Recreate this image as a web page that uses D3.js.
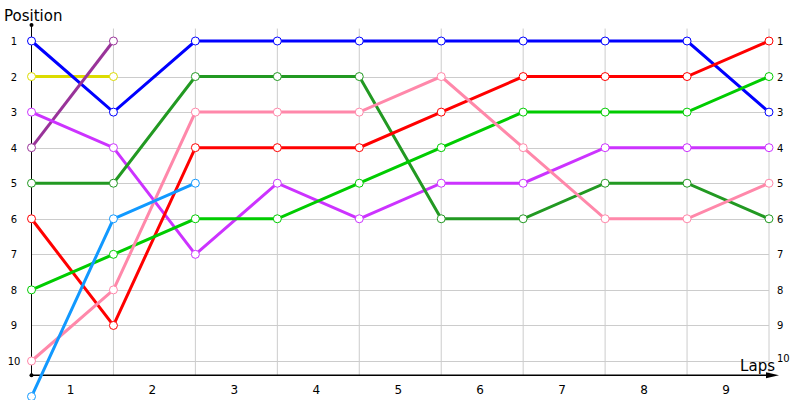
<!DOCTYPE html>
<html>
<head>
<meta charset="utf-8">
<script src="https://cdn.jsdelivr.net/npm/d3@7"></script>
<style>
  body { margin: 0; background: #fff; }
  svg { display: block; font-family: "DejaVu Sans", Verdana, sans-serif; }
</style>
</head>
<body>
<svg id="chart" width="800" height="400"></svg>
<script>
// ************************************
// Data
// ************************************

const laps = [1, 2, 3, 4, 5, 6, 7, 8, 9];
const positions = [1, 2, 3, 4, 5, 6, 7, 8, 9, 10];

// position of each driver at every lap boundary (index 0 = start)
const yellowPos = [2, 2];
const bluePos = [1, 3, 1, 1, 1, 1, 1, 1, 1, 3];
const plumPos = [4, 1];
const violetPos = [3, 4, 7, 5, 6, 5, 5, 4, 4, 4];
const darkGreenPos = [5, 5, 2, 2, 2, 6, 6, 5, 5, 6];
const redPos = [6, 9, 4, 4, 4, 3, 2, 2, 2, 1];
const greenPos = [8, 7, 6, 6, 5, 4, 3, 3, 3, 2];
const pinkPos = [10, 8, 3, 3, 3, 2, 4, 6, 6, 5];
const skyPos = [11, 6, 5];

const series = [
  { color: "#dcdc00", values: yellowPos },
  { color: "#0000ff", values: bluePos },
  { color: "#993399", values: plumPos },
  { color: "#cc33ff", values: violetPos },
  { color: "#229922", values: darkGreenPos },
  { color: "#ff0000", values: redPos },
  { color: "#00cc00", values: greenPos },
  { color: "#ff88aa", values: pinkPos },
  { color: "#1199ff", values: skyPos }
];

// ************************************
// Scales
// ************************************

const svg = d3.select("#chart");

const x = d3.scaleLinear().domain([0, laps.length]).range([31.5, 769]);
const y = d3.scaleLinear().domain([1, 10]).range([41, 361]);

const axisY = y(10.4);   // where the lap axis sits
const topY = y(0.55);

// Gridlines
const grid = svg.append("g").attr("class", "grid");

grid.selectAll(".vline")
  .data(d3.range(1, laps.length + 1))
  .enter().append("line")
    .attr("x1", d => x(d)).attr("x2", d => x(d))
    .attr("y1", y(0.65)).attr("y2", axisY)
    .attr("stroke", "#cccccc").attr("stroke-width", 1);

grid.selectAll(".hline")
  .data(positions)
  .enter().append("line")
    .attr("x1", x(0)).attr("x2", x(laps.length))
    .attr("y1", d => Math.round(y(d)) + 0.5).attr("y2", d => Math.round(y(d)) + 0.5)
    .attr("stroke", "#cccccc").attr("stroke-width", 1);

// Axes
svg.append("line")
  .attr("x1", x(0)).attr("x2", x(0))
  .attr("y1", topY).attr("y2", axisY)
  .attr("stroke", "#000").attr("stroke-width", 1);

svg.append("line")
  .attr("x1", x(0)).attr("x2", 770)
  .attr("y1", axisY).attr("y2", axisY)
  .attr("stroke", "#000").attr("stroke-width", 1.5);

svg.append("path")
  .attr("d", `M766,${axisY - 3}L779,${axisY}L766,${axisY + 3}Z`)
  .attr("fill", "#000");

svg.append("circle").attr("cx", x(0)).attr("cy", topY).attr("r", 2).attr("fill", "#000");
svg.append("circle").attr("cx", x(0)).attr("cy", axisY).attr("r", 2).attr("fill", "#000");

// Tick labels
svg.selectAll(".lapLabel")
  .data(laps)
  .enter().append("text")
    .attr("x", d => x(d - 0.5) - 2)
    .attr("y", axisY + 19)
    .attr("text-anchor", "middle")
    .attr("font-size", 12)
    .attr("fill", "#000")
    .text(d => d);

svg.selectAll(".posLeft")
  .data(positions)
  .enter().append("text")
    .attr("x", 14)
    .attr("y", d => y(d) + 4)
    .attr("text-anchor", "middle")
    .attr("font-size", 10)
    .attr("fill", "#000")
    .text(d => d);

svg.selectAll(".posRight")
  .data(positions)
  .enter().append("text")
    .attr("x", 777)
    .attr("y", d => y(d) + 4 - (d === 10 ? 3 : 0))
    .attr("text-anchor", "start")
    .attr("font-size", 10)
    .attr("fill", "#000")
    .text(d => d);

svg.append("text")
  .attr("x", 4).attr("y", 21)
  .attr("font-size", 15)
  .attr("fill", "#000")
  .text("Position");

svg.append("text")
  .attr("x", 775).attr("y", 371)
  .attr("text-anchor", "end")
  .attr("font-size", 15)
  .attr("fill", "#000")
  .text("Laps");

// ************************************
// Lines and markers
// ************************************

const line = d3.line()
  .x((d, i) => x(i))
  .y(d => y(d));

const lines = svg.append("g").attr("class", "lines");

series.forEach(s => {
  lines.append("path")
    .attr("d", line(s.values))
    .attr("fill", "none")
    .attr("stroke", s.color)
    .attr("stroke-width", 3);
});

series.forEach(s => {
  lines.selectAll(null)
    .data(s.values)
    .enter().append("circle")
      .attr("cx", (d, i) => x(i))
      .attr("cy", d => y(d))
      .attr("r", 4)
      .attr("fill", "#fff")
      .attr("stroke", s.color)
      .attr("stroke-width", 1);
});
</script>
</body>
</html>
